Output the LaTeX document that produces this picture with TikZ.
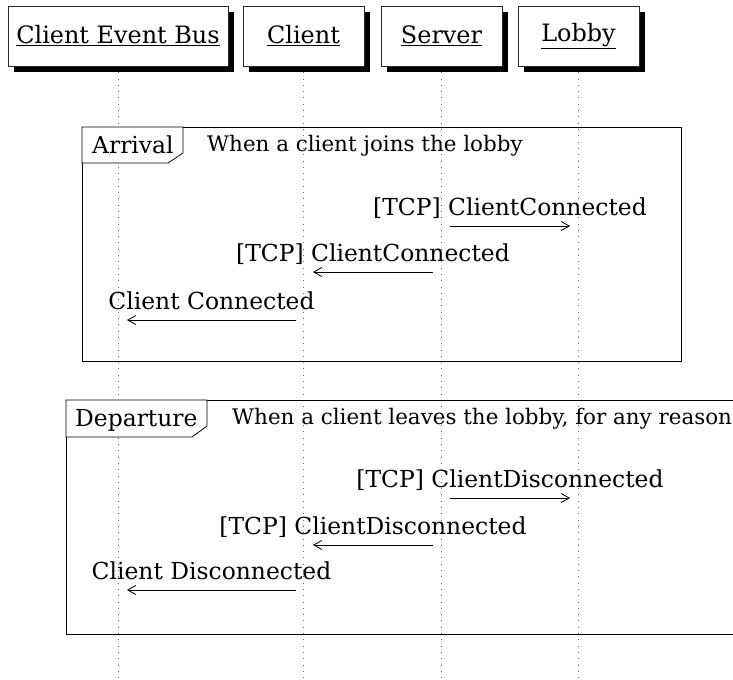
\documentclass[tikz,border=0pt]{standalone}
\usepackage{fontspec}
\setmainfont{DejaVu Serif}
\usetikzlibrary{arrows.meta,shadows}

\begin{document}
\begin{tikzpicture}[x=1bp,y=-1bp,
  actor/.style={draw=black!85, fill=white, line width=0.8bp, minimum height=60bp,
    inner sep=0pt, font=\fontsize{24}{28}\selectfont,
    drop shadow={shadow xshift=6bp, shadow yshift=-6bp, fill=black, opacity=1}},
  lifeline/.style={dash pattern=on 1bp off 5.3bp, line width=1bp, black!60},
  frame/.style={draw, line width=0.8bp},
  tab/.style={draw, fill=white, line width=0.8bp},
  framelabel/.style={font=\fontsize{23.5}{27}\selectfont, anchor=base west, inner sep=0pt},
  framedesc/.style={font=\fontsize{21.5}{25}\selectfont, anchor=base west, inner sep=0pt},
  msg/.style={line width=0.8bp, -{Straight Barb[length=8bp,width=9bp]}},
  msglabel/.style={font=\fontsize{23.5}{27}\selectfont, anchor=base, yshift=11bp, inner sep=0pt}
]
\useasboundingbox (0,0) rectangle (733,680);

% lifelines
\draw[lifeline] (118,66) -- (118,680);
\draw[lifeline] (303.5,66) -- (303.5,680);
\draw[lifeline] (441.5,66) -- (441.5,680);
\draw[lifeline] (578.5,66) -- (578.5,680);

% participants
\node[actor, minimum width=220bp] (ceb) at (118,36) {\underline{Client Event Bus}};
\node[actor, minimum width=121bp] (cli) at (303.5,36) {\underline{Client}};
\node[actor, minimum width=121bp] (srv) at (441.5,36) {\underline{Server}};
\node[actor, minimum width=121bp] (lob) at (578.5,36) {\underline{Lobby}};

% Arrival fragment
\draw[frame] (82,127) rectangle (681,361);
\draw[tab] (82,127) -- (183,127) -- (183,153) -- (168,163) -- (82,163) -- cycle;
\node[framelabel] (arrlbl) at (92,153) {Arrival};
\node[framedesc] (arrdesc) at (207,151) {When a client joins the lobby};

\coordinate (a1s) at (450,226);
\coordinate (a1e) at (570,226);
\coordinate (a2s) at (433,272);
\coordinate (a2e) at (313,272);
\coordinate (a3s) at (296,320);
\coordinate (a3e) at (127,320);
\draw[msg] (a1s) -- node[msglabel] {[TCP] ClientConnected} (a1e);
\draw[msg] (a2s) -- node[msglabel] {[TCP] ClientConnected} (a2e);
\draw[msg] (a3s) -- node[msglabel] {Client Connected} (a3e);

% Departure fragment
\draw[frame] (740,400) -- (66,400) -- (66,634) -- (740,634);
\draw[tab] (66,400) -- (207,400) -- (207,426) -- (192,437) -- (66,437) -- cycle;
\node[framelabel] (deplbl) at (75,426) {Departure};
\node[framedesc] (depdesc) at (232,424) {When a client leaves the lobby, for any reason};

\coordinate (d1s) at (450,498);
\coordinate (d1e) at (570,498);
\coordinate (d2s) at (433,545);
\coordinate (d2e) at (313,545);
\coordinate (d3s) at (296,590);
\coordinate (d3e) at (127,590);
\draw[msg] (d1s) -- node[msglabel] {[TCP] ClientDisconnected} (d1e);
\draw[msg] (d2s) -- node[msglabel] {[TCP] ClientDisconnected} (d2e);
\draw[msg] (d3s) -- node[msglabel] {Client Disconnected} (d3e);
\end{tikzpicture}
\end{document}
